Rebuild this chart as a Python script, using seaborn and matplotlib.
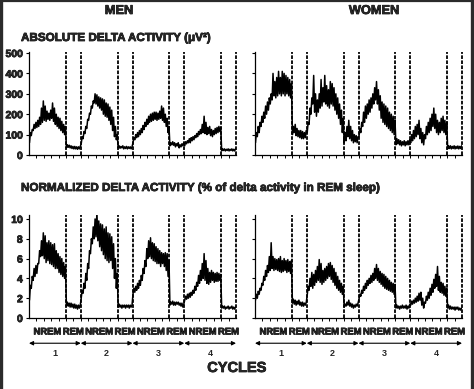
import numpy as np
import pandas as pd
import matplotlib
matplotlib.use("Agg")
import matplotlib.pyplot as plt
import matplotlib.patheffects as pe
import seaborn as sns
from matplotlib.lines import Line2D

# trace envelope: (low, high) pairs per bin, one list per cycle
men_abs_nrem = [
    [(60, 110), (95, 125), (120, 150), (130, 160), (135, 170), (140, 185), (150, 230), (160, 265), (170, 240), (165, 215),
     (175, 205), (170, 220), (180, 255), (165, 230), (150, 200), (140, 185), (130, 180), (120, 165), (110, 150), (100, 140)],
    [(55, 90), (80, 115), (105, 140), (130, 175), (170, 205), (200, 240), (230, 265), (255, 300), (250, 295), (240, 285),
     (230, 280), (220, 275), (200, 270), (190, 255), (185, 250), (170, 235), (150, 220), (120, 185), (90, 140), (75, 100)],
    [(60, 85), (75, 100), (85, 110), (90, 120), (100, 130), (110, 145), (125, 160), (140, 175), (150, 190), (160, 200),
     (165, 205), (170, 210), (175, 210), (170, 205), (175, 215), (180, 240), (170, 230), (160, 200), (140, 180), (110, 140)],
    [(45, 65), (55, 70), (60, 80), (60, 85), (70, 90), (75, 95), (85, 105), (90, 115), (100, 125), (105, 150),
     (110, 190), (105, 160), (100, 135), (105, 140), (95, 125), (90, 120), (100, 130), (105, 135), (110, 140), (115, 135)],
]
men_abs_rem = [
    [(35, 50), (38, 48), (35, 45), (32, 42), (30, 42), (30, 40), (28, 40), (30, 42)],
    [(35, 45), (33, 42), (35, 45), (30, 40), (32, 42), (30, 40), (32, 40), (30, 40)],
    [(45, 60), (50, 65), (48, 60), (40, 55), (45, 60), (35, 50), (40, 55), (45, 60)],
    [(20, 30), (22, 30), (20, 28), (22, 30), (20, 28), (22, 30), (20, 28), (20, 30)],
]
women_abs_nrem = [
    [(60, 110), (90, 140), (110, 160), (140, 190), (160, 210), (180, 240), (200, 260), (220, 280), (250, 300), (270, 400),
     (290, 360), (280, 380), (290, 410), (300, 380), (290, 410), (300, 400), (290, 390), (300, 380), (290, 370), (280, 350)],
    [(110, 160), (150, 230), (200, 280), (250, 390), (210, 300), (190, 270), (210, 300), (230, 370), (240, 330), (260, 390),
     (250, 340), (240, 320), (230, 360), (250, 350), (240, 330), (220, 300), (200, 280), (180, 250), (150, 220), (110, 180)],
    [(90, 130), (110, 160), (140, 210), (160, 240), (180, 250), (200, 270), (210, 280), (230, 300), (250, 330), (270, 360),
     (250, 320), (220, 290), (180, 260), (160, 250), (150, 240), (140, 230), (130, 210), (120, 200), (110, 190), (100, 170)],
    [(60, 100), (70, 120), (80, 140), (90, 150), (100, 170), (80, 130), (60, 110), (50, 100), (80, 140), (100, 160),
     (110, 180), (120, 200), (140, 230), (130, 200), (110, 170), (100, 160), (110, 180), (120, 190), (110, 170), (100, 160)],
]
women_abs_rem = [
    [(100, 140), (110, 150), (95, 130), (90, 120), (85, 120), (80, 115), (80, 110), (85, 120)],
    [(60, 110), (70, 140), (90, 170), (80, 140), (70, 120), (60, 100), (65, 95), (60, 90)],
    [(50, 80), (55, 75), (50, 70), (45, 65), (50, 70), (45, 65), (50, 70), (50, 75)],
    [(30, 45), (32, 45), (30, 42), (32, 45), (30, 42), (32, 44), (30, 42), (32, 45)],
]
men_norm_nrem = [
    [(1.8, 3.3), (3.0, 4.2), (3.8, 5.0), (4.2, 5.3), (4.5, 5.5), (5.5, 6.8), (6.2, 7.8), (6.3, 8.6), (6.0, 8.3), (5.6, 7.6),
     (5.8, 7.8), (5.5, 7.6), (5.4, 7.4), (5.2, 7.5), (5.0, 6.8), (5.0, 6.5), (4.6, 6.2), (4.4, 6.0), (4.2, 5.6), (4.0, 5.2)],
    [(2.0, 2.8), (2.5, 3.5), (3.0, 4.5), (3.8, 5.5), (5.0, 6.8), (6.5, 8.0), (7.5, 9.2), (8.0, 10.0), (8.2, 10.7), (7.8, 9.8),
     (7.2, 9.5), (6.8, 9.4), (6.4, 9.0), (6.0, 9.2), (5.8, 8.6), (5.6, 8.5), (5.8, 8.2), (5.0, 7.5), (4.0, 6.0), (3.0, 4.5)],
    [(2.4, 3.0), (2.6, 3.2), (2.8, 3.5), (3.0, 3.8), (3.3, 4.3), (3.8, 5.0), (4.5, 5.8), (5.2, 7.0), (6.0, 7.8), (6.2, 8.1),
     (6.0, 7.6), (5.8, 7.5), (5.7, 7.2), (5.5, 7.0), (5.5, 6.8), (5.2, 6.6), (5.5, 6.5), (5.2, 6.6), (4.8, 6.5), (4.2, 5.8)],
    [(1.8, 2.2), (1.9, 2.4), (2.0, 2.5), (2.1, 2.6), (2.3, 2.8), (2.5, 3.2), (2.8, 3.6), (3.2, 4.3), (3.5, 4.8), (3.8, 5.5),
     (4.0, 6.5), (3.8, 5.8), (3.5, 5.0), (3.4, 4.6), (3.6, 4.8), (3.8, 4.6), (3.6, 4.5), (3.7, 4.6), (3.7, 4.5), (3.8, 4.4)],
]
men_norm_rem = [
    [(1.2, 1.6), (1.2, 1.5), (1.1, 1.5), (1.1, 1.4), (1.0, 1.4), (1.0, 1.3), (0.9, 1.3), (1.0, 1.3)],
    [(1.1, 1.4), (1.1, 1.3), (1.0, 1.3), (1.1, 1.3), (1.0, 1.3), (1.1, 1.3), (1.0, 1.3), (1.1, 1.3)],
    [(1.3, 1.6), (1.4, 1.7), (1.3, 1.6), (1.3, 1.6), (1.4, 1.6), (1.3, 1.5), (1.2, 1.5), (1.1, 1.4)],
    [(1.0, 1.2), (1.0, 1.2), (0.9, 1.1), (1.0, 1.2), (0.9, 1.1), (1.0, 1.2), (0.9, 1.1), (0.9, 1.1)],
]
women_norm_nrem = [
    [(1.8, 2.4), (2.0, 2.7), (2.4, 3.0), (2.8, 3.5), (3.3, 4.2), (3.8, 4.8), (4.2, 5.3), (4.6, 6.2), (4.8, 7.6), (5.0, 6.2),
     (4.8, 6.0), (4.9, 5.9), (4.8, 6.0), (4.7, 6.2), (4.6, 5.8), (4.7, 6.0), (4.8, 5.8), (4.6, 5.9), (4.7, 5.7), (4.5, 5.8)],
    [(2.3, 3.2), (2.8, 4.0), (3.2, 4.6), (3.0, 4.4), (3.3, 4.8), (3.6, 5.2), (3.8, 5.9), (3.6, 5.5), (3.4, 4.8), (3.6, 5.0),
     (3.8, 5.2), (4.0, 5.5), (4.2, 5.6), (3.9, 5.3), (3.6, 5.0), (3.3, 4.6), (3.0, 4.2), (2.8, 3.8), (2.6, 3.5), (2.4, 3.2)],
    [(1.9, 2.4), (2.2, 2.8), (2.5, 3.2), (2.8, 3.5), (3.0, 3.8), (3.3, 4.0), (3.5, 4.3), (3.6, 4.5), (3.8, 5.0), (4.0, 5.4),
     (3.8, 5.0), (3.6, 4.7), (3.4, 4.5), (3.2, 4.4), (3.0, 4.2), (2.9, 4.0), (2.8, 3.8), (2.7, 3.6), (2.6, 3.5), (2.4, 3.4)],
    [(1.3, 1.7), (1.4, 1.8), (1.5, 2.0), (1.6, 2.2), (1.7, 2.5), (1.8, 2.6), (1.3, 2.0), (1.0, 1.6), (1.5, 2.2), (1.8, 2.6),
     (2.0, 3.0), (2.3, 3.4), (2.6, 3.9), (3.0, 4.4), (3.2, 5.2), (2.8, 4.2), (2.6, 3.6), (2.5, 3.5), (2.3, 3.2), (2.2, 3.0)],
]
women_norm_rem = [
    [(1.5, 1.9), (1.4, 1.8), (1.3, 1.7), (1.4, 1.8), (1.3, 1.6), (1.2, 1.6), (1.2, 1.5), (1.3, 1.6)],
    [(1.1, 1.4), (1.2, 1.6), (1.3, 1.8), (1.2, 1.5), (1.1, 1.4), (1.0, 1.3), (1.1, 1.4), (1.2, 1.5)],
    [(1.0, 1.3), (1.0, 1.2), (0.9, 1.2), (1.0, 1.3), (1.0, 1.2), (1.0, 1.3), (0.9, 1.2), (1.0, 1.4)],
    [(1.0, 1.3), (0.9, 1.2), (0.9, 1.1), (0.9, 1.1), (0.8, 1.1), (0.9, 1.1), (0.8, 1.0), (0.8, 1.0)],
]

cycles = ["1", "2", "3", "4"]
stages = ["NREM", "REM"]
stage_len = [2.5, 1.0]
abs_ticks = [0, 100, 200, 300, 400, 500]
norm_ticks = [0, 2, 4, 6, 8, 10]

sns.set_theme(style="ticks")
plt.rcParams["font.family"] = ["Liberation Sans", "DejaVu Sans"]
plt.rcParams["font.weight"] = "bold"

# heavier strokes, the original type is very black
heavy = [pe.withStroke(linewidth=0.5, foreground="black")]


def build_trace(nrem, rem):
    xs, ys = [], []
    start = 0.0
    for c in range(len(cycles)):
        for seg, length in ((nrem[c], stage_len[0]), (rem[c], stage_len[1])):
            n = 2 * len(seg)
            xs.extend(start + length * (np.arange(n) + 0.5) / n)
            ys.extend([v for pair in seg for v in pair])
            start += length
    return pd.DataFrame({"t": xs, "v": ys})


def boundaries():
    out, start = [], 0.0
    for c in cycles:
        for length in stage_len:
            start += length
            out.append(start)
    return out


def draw_panel(ax, df, ylim, yticks, show_labels):
    sns.lineplot(data=df, x="t", y="v", ax=ax, color="black", linewidth=1.1,
                 estimator=None, sort=False)
    for b in boundaries():
        ax.axvline(b, color="black", lw=1.3, ls=(0, (2.0, 0.8)), clip_on=False)
    ax.set_xlim(0, 14)
    ax.set_ylim(*ylim)
    ax.set_yticks(yticks)
    if show_labels:
        ax.set_yticklabels([str(t) for t in yticks], fontsize=7.5, fontweight="bold")
        for lab in ax.get_yticklabels():
            lab.set_path_effects(heavy)
    else:
        ax.set_yticklabels([])
    ax.set_xticks(np.arange(0.5, 14, 0.5))
    ax.set_xticklabels([])
    ax.tick_params(axis="x", length=2, width=0.7, color="black")
    ax.tick_params(axis="y", length=2.5, width=0.8, color="black", pad=2)
    for s in ["top", "right"]:
        ax.spines[s].set_visible(False)
    for s in ["left", "bottom"]:
        ax.spines[s].set_color("black")
        ax.spines[s].set_linewidth(0.9)
    ax.set_xlabel("")
    ax.set_ylabel("")


def stage_axis(ax):
    tr = ax.get_xaxis_transform()
    start = 0.0
    for c in cycles:
        c0 = start
        for name, length in zip(stages, stage_len):
            ax.text(start + length / 2, -0.135, name, transform=tr, ha="center", va="center",
                    fontsize=6.8, fontweight="bold", path_effects=heavy)
            start += length
        ax.annotate("", xy=(c0, -0.245), xytext=(start, -0.245), xycoords=tr, textcoords=tr,
                    arrowprops=dict(arrowstyle="<|-|>", color="black", lw=0.8,
                                    mutation_scale=6, shrinkA=0, shrinkB=0))
        ax.text((c0 + start) / 2, -0.34, c, transform=tr, ha="center", va="center",
                fontsize=6.5, fontweight="bold")


W, H = 474, 389
fig = plt.figure(figsize=(W / 100, H / 100), dpi=100)
fig.patch.set_facecolor("white")

aw = 207 / W
top_b, top_h = 1 - 155 / H, 103 / H
bot_b, bot_h = 1 - 318 / H, 103 / H

ax1 = fig.add_axes([29 / W, top_b, aw, top_h])
ax2 = fig.add_axes([255 / W, top_b, aw, top_h])
ax3 = fig.add_axes([29 / W, bot_b, aw, bot_h])
ax4 = fig.add_axes([255 / W, bot_b, aw, bot_h])
for ax in (ax1, ax2, ax3, ax4):
    ax.set_facecolor("white")

draw_panel(ax1, build_trace(men_abs_nrem, men_abs_rem), (0, 505), abs_ticks, True)
draw_panel(ax2, build_trace(women_abs_nrem, women_abs_rem), (0, 505), abs_ticks, False)
draw_panel(ax3, build_trace(men_norm_nrem, men_norm_rem), (0, 10.4), norm_ticks, True)
draw_panel(ax4, build_trace(women_norm_nrem, women_norm_rem), (0, 10.4), norm_ticks, False)
stage_axis(ax3)
stage_axis(ax4)

fig.text(119 / W, 1 - 11 / H, "MEN", ha="center", va="center", fontsize=9.2,
         fontweight="bold", path_effects=heavy)
fig.text(374 / W, 1 - 11 / H, "WOMEN", ha="center", va="center", fontsize=9.2,
         fontweight="bold", path_effects=heavy)
fig.text(21 / W, 1 - 38 / H, "ABSOLUTE DELTA ACTIVITY (\u03bcV\u00b2)", ha="left", va="center",
         fontsize=8.4, fontweight="bold", path_effects=heavy)
fig.text(21 / W, 1 - 188 / H, "NORMALIZED DELTA ACTIVITY (% of delta activity in REM sleep)",
         ha="left", va="center", fontsize=8.4, fontweight="bold", path_effects=heavy)
fig.text(237 / W, 1 - 368 / H, "CYCLES", ha="center", va="center", fontsize=10.5,
         fontweight="bold", path_effects=heavy)

# dark frame round the picture
edge = "#2b2b2b"
fig.add_artist(Line2D([0.003, 0.003], [0, 1], transform=fig.transFigure, color=edge, lw=2.4))
fig.add_artist(Line2D([0.996, 0.996], [0, 1], transform=fig.transFigure, color=edge, lw=2.4))
fig.add_artist(Line2D([0, 1], [0.998, 0.998], transform=fig.transFigure, color=edge, lw=1.6))

fig.savefig("out.png", dpi=100, facecolor="white")
